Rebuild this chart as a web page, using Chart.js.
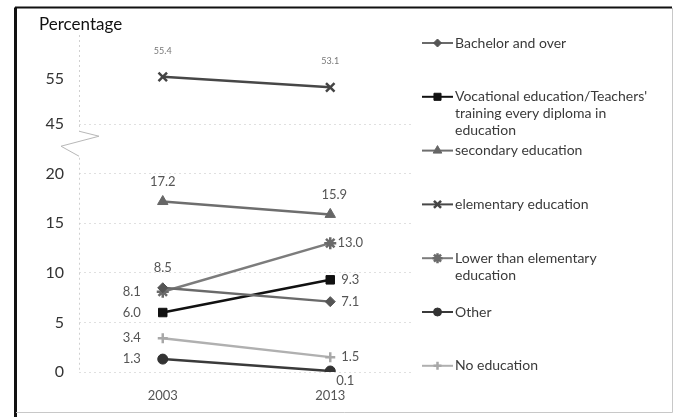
<!DOCTYPE html>
<html>
<head>
<meta charset="utf-8">
<script src="https://cdn.jsdelivr.net/npm/chart.js@4.4.1/dist/chart.umd.min.js"></script>
<style>
  html, body { margin: 0; padding: 0; background: #fff; }
  #wrap { width: 676px; height: 417px; position: relative; }
</style>
</head>
<body>
<div id="wrap"><canvas id="myChart" width="676" height="417"></canvas></div>
<script>
// data
const years = ['2003', '2013'];
const seriesNames = [
  'Bachelor and over',
  "Vocational education/Teachers'\ntraining every diploma in\neducation",
  'secondary education',
  'elementary education',
  'Lower than elementary\neducation',
  'Other',
  'No education'
];
const bachelor = [8.5, 7.1];
const vocational = [6.0, 9.3];
const secondary = [17.2, 15.9];
const elementary = [55.4, 53.1];
const lowerElementary = [8.1, 13.0];
const other = [1.3, 0.1];
const noEducation = [3.4, 1.5];
const tickValues = [0, 5, 10, 15, 20, 45, 55];

// styles
const lineColors = ['#6a6a6a', '#111111', '#6e6e6e', '#474747', '#7c7c7c', '#3a3a3a', '#b0b0b0'];
const markerColors = ['#555555', '#111111', '#666666', '#444444', '#6a6a6a', '#333333', '#a8a8a8'];
const markers = ['rectRot', 'rect', 'triangle', 'crossRot', 'star', 'circle', 'cross'];
const markerSize = [5, 6, 6, 6, 6, 5, 5];
// where each value label sits relative to its point
const labelPlace = [
  ['top', 'right'],
  ['left', 'right'],
  ['top', 'topright'],
  ['top', 'top'],
  ['left', 'right'],
  ['left', 'bottomright'],
  ['left', 'right']
];

// broken axis: 0-20 as is, 45+ squeezed above
const toAxis = v => v <= 20 ? v : 25 + (v - 45) * 0.46;
const fromAxis = t => t <= 20 ? t : Math.round(45 + (t - 25) / 0.46);

const allValues = [bachelor, vocational, secondary, elementary, lowerElementary, other, noEducation];

const datasets = allValues.map((vals, i) => ({
  label: seriesNames[i],
  data: vals.map(toAxis),
  raw: vals,
  borderColor: lineColors[i],
  backgroundColor: markerColors[i],
  pointBorderColor: markerColors[i],
  pointBackgroundColor: markerColors[i],
  pointStyle: markers[i],
  pointRadius: markerSize[i],
  pointBorderWidth: (markers[i] == 'crossRot' || markers[i] == 'star' || markers[i] == 'cross') ? 2.5 : 1,
  borderWidth: 2.5,
  tension: 0
}));

const decorPlugin = {
  id: 'decor',
  beforeDraw(chart) {
    const c = chart.ctx;
    c.save();
    c.fillStyle = '#fff';
    c.fillRect(0, 0, chart.width, chart.height);
    c.restore();
  },
  afterDraw(chart) {
    const c = chart.ctx;
    const area = chart.chartArea;
    const y = chart.scales.y;
    c.save();

    // frame
    c.strokeStyle = '#111';
    c.lineWidth = 3;
    c.beginPath();
    c.moveTo(15.5, 417);
    c.lineTo(15.5, 7.5);
    c.stroke();
    c.lineWidth = 2;
    c.beginPath();
    c.moveTo(15, 7.5);
    c.lineTo(672, 7.5);
    c.stroke();
    c.strokeStyle = '#c8c8c8';
    c.lineWidth = 1;
    c.beginPath();
    c.moveTo(672.5, 8);
    c.lineTo(672.5, 412.5);
    c.lineTo(16, 412.5);
    c.stroke();

    // title
    c.fillStyle = '#111';
    c.font = '17px Lato, "Open Sans", sans-serif';
    c.textAlign = 'left';
    c.textBaseline = 'middle';
    c.fillText('Percentage', 39, 25);

    // y axis line with break
    const yTop = y.getPixelForValue(toAxis(45));
    const yBot = y.getPixelForValue(20);
    c.strokeStyle = '#d0d0d0';
    c.lineWidth = 1;
    c.setLineDash([2, 3]);
    c.beginPath();
    c.moveTo(area.left + 0.5, area.top);
    c.lineTo(area.left + 0.5, yTop + 6);
    c.moveTo(area.left + 0.5, yBot - 16);
    c.lineTo(area.left + 0.5, area.bottom);
    c.stroke();
    c.setLineDash([]);
    c.strokeStyle = '#b8b8b8';
    c.beginPath();
    c.moveTo(area.left, yTop + 7);
    c.lineTo(area.left + 20, yTop + 12);
    c.lineTo(area.left - 18, yTop + 22);
    c.lineTo(area.left, yTop + 32);
    c.stroke();

    // value labels
    chart.data.datasets.forEach((ds, i) => {
      const meta = chart.getDatasetMeta(i);
      meta.data.forEach((pt, j) => {
        const txt = ds.raw[j].toFixed(1);
        const place = labelPlace[i][j];
        let x = pt.x, yy = pt.y;
        if (place == 'top') yy -= 20;
        if (place == 'left') x -= 31;
        if (place == 'right') x += 20;
        if (place == 'topright') { x += 4; yy -= 20; }
        if (place == 'bottomright') { x += 15; yy += 10; }
        if (i == 3) {
          c.font = '9px Lato, "Open Sans", sans-serif';
          c.fillStyle = '#777';
          yy -= 6;
        } else {
          c.font = '13px Lato, "Open Sans", sans-serif';
          c.fillStyle = '#555';
        }
        c.textAlign = 'center';
        c.textBaseline = 'middle';
        c.fillText(txt, x, yy);
      });
    });

    // legend
    const lx = 422, tx = 455;
    c.font = '14px Lato, "Open Sans", sans-serif';
    c.textAlign = 'left';
    c.textBaseline = 'middle';
    seriesNames.forEach((name, i) => {
      const ly = 43 + i * 53.8;
      c.strokeStyle = lineColors[i];
      c.lineWidth = 2;
      c.beginPath();
      c.moveTo(lx, ly);
      c.lineTo(lx + 31, ly);
      c.stroke();
      c.fillStyle = markerColors[i];
      c.strokeStyle = markerColors[i];
      c.lineWidth = datasets[i].pointBorderWidth;
      Chart.helpers.drawPoint(c, {
        pointStyle: markers[i],
        radius: markerSize[i] - 1,
        borderWidth: datasets[i].pointBorderWidth,
        rotation: 0
      }, lx + 15.5, ly);
      c.fillStyle = '#3a3a3a';
      name.split('\n').forEach((line, k) => {
        c.fillText(line, tx, ly + k * 17);
      });
    });

    c.restore();
  }
};

let ctx = document.querySelector('#myChart');

let charter = new Chart(ctx, {
  type: 'line',
  data: {
    labels: years,
    datasets: datasets
  },
  options: {
    responsive: false,
    animation: false,
    layout: { padding: { top: 35, right: 262, bottom: 0, left: 0 } },
    plugins: {
      legend: { display: false },
      tooltip: { enabled: false },
      title: { display: false }
    },
    scales: {
      x: {
        offset: true,
        grid: { display: false },
        border: { display: false },
        ticks: {
          color: '#555',
          font: { size: 13, family: 'Lato, "Open Sans", sans-serif' },
          padding: 8
        },
        afterFit: s => { s.height = 45; }
      },
      y: {
        min: 0,
        max: 34,
        afterBuildTicks: s => { s.ticks = tickValues.map(v => ({ value: toAxis(v) })); },
        grid: {
          drawTicks: false,
          color: c => (c.tick && c.tick.value > 26) ? 'rgba(0,0,0,0)' : '#e0e0e0'
        },
        border: { display: false, dash: [2, 3] },
        ticks: {
          color: '#333',
          padding: 15,
          font: { size: 16, family: 'Lato, "Open Sans", sans-serif' },
          callback: v => fromAxis(v)
        },
        afterFit: s => { s.width = 79; }
      }
    }
  },
  plugins: [decorPlugin]
});
</script>
</body>
</html>
